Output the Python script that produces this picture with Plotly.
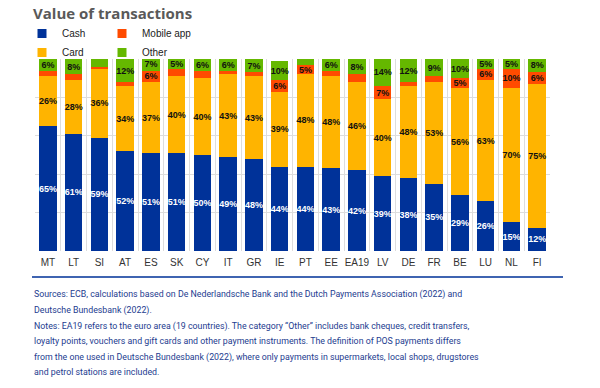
import plotly.graph_objects as go

countries = ["MT", "LT", "SI", "AT", "ES", "SK", "CY", "IT", "GR", "IE",
             "PT", "EE", "EA19", "LV", "DE", "FR", "BE", "LU", "NL", "FI"]
cash = [65, 61, 59, 52, 51, 51, 50, 49, 48, 44, 44, 43, 42, 39, 38, 35, 29, 26, 15, 12]
card = [26, 28, 36, 34, 37, 40, 40, 43, 43, 39, 48, 48, 46, 40, 48, 53, 56, 63, 70, 75]
mobile = [3, 3, 1, 2, 6, 4, 4, 2, 2, 6, 5, 3, 4, 7, 2, 3, 5, 6, 10, 6]
other = [6, 8, 4, 12, 7, 5, 6, 6, 7, 10, 3, 6, 8, 14, 12, 9, 10, 5, 5, 8]

series = [
    ("Cash", cash, "#003299", "white"),
    ("Card", card, "#ffb400", "#111111"),
    ("Mobile app", mobile, "#ff4b00", "#111111"),
    ("Other", other, "#65b800", "#111111"),
]

title_text = "Value of transactions"
footnote_lines = [
    "Sources: ECB, calculations based on De Nederlandsche Bank and the Dutch Payments Association (2022) and",
    "Deutsche Bundesbank (2022).",
    "Notes: EA19 refers to the euro area (19 countries). The category \u201cOther\u201d includes bank cheques, credit transfers,",
    "loyalty points, vouchers and gift cards and other payment instruments. The definition of POS payments differs",
    "from the one used in Deutsche Bundesbank (2022), where only payments in supermarkets, local shops, drugstores",
    "and petrol stations are included.",
]

W, H = 600, 388
L, R, T, B = 35, 50, 59, 137
pw, ph = W - L - R, H - T - B

def px_x(px):
    return (px - L) / pw

def px_y(py):
    return (H - B - py) / ph

fig = go.Figure()
for name, vals, color, tcolor in series:
    fig.add_trace(go.Bar(
        x=countries, y=vals, name=name, marker=dict(color=color, line=dict(width=0)),
        text=[f"{v}%" if v >= 5 else "" for v in vals],
        textposition="inside", insidetextanchor="middle", textangle=0,
        textfont=dict(color=tcolor, size=9, family="Liberation Sans", weight="bold"),
        showlegend=False, hoverinfo="skip",
    ))

legend_of = {"Cash": "legend", "Card": "legend", "Mobile app": "legend2", "Other": "legend2"}
for name, vals, color, tcolor in series:
    fig.add_trace(go.Scatter(
        x=[None], y=[None], mode="markers", name=name,
        marker=dict(symbol="square", size=9, color=color),
        legend=legend_of[name], showlegend=True,
    ))

leg_common = dict(xanchor="left", yanchor="top", xref="container", yref="container",
                  orientation="v", traceorder="normal",
                  font=dict(family="Liberation Sans", size=10, color="#222"),
                  itemwidth=30, tracegroupgap=0, bgcolor="rgba(0,0,0,0)")

fig.update_layout(
    width=W, height=H,
    margin=dict(l=L, r=R, t=T, b=B, autoexpand=False),
    barmode="stack", bargap=0.32,
    paper_bgcolor="white", plot_bgcolor="white",
    uniformtext=dict(minsize=9, mode="show"),
    title=dict(text=f"<b>{title_text}</b>", x=33 / W, xanchor="left",
               y=1 - 14 / H, yanchor="middle",
               font=dict(family="Open Sans", size=15, color="#595959")),
    legend=dict(x=22 / W, y=1 - 19 / H, **leg_common),
    legend2=dict(x=102 / W, y=1 - 19 / H, **leg_common),
    xaxis=dict(type="category", tickson="boundaries", showgrid=True, gridcolor="#dddddd",
               gridwidth=1, ticks="", showline=False, tickangle=0, automargin=False,
               ticklabelstandoff=4,
               tickfont=dict(family="Liberation Sans", size=10, color="#333"),
               range=[-0.5, len(countries) - 0.5]),
    yaxis=dict(range=[0, 100], dtick=20, showgrid=True, gridcolor="#dddddd",
               showticklabels=False, zeroline=False, showline=False, ticks="",
               automargin=False),
    shapes=[dict(type="line", xref="paper", yref="paper",
                 x0=px_x(32), x1=px_x(563), y0=px_y(277), y1=px_y(277),
                 line=dict(color="#3f64b1", width=2))],
)

line_y = [294, 310, 326, 341, 357, 372]
for txt, py in zip(footnote_lines, line_y):
    fig.add_annotation(text=txt, xref="paper", yref="paper", x=px_x(32), y=px_y(py),
                       xanchor="left", yanchor="middle", showarrow=False,
                       font=dict(family="Roboto", size=8.8, color="#1d3c8f"))

fig.write_html("out.html", config={"displayModeBar": False},
               post_script="document.body.style.margin='0';")
